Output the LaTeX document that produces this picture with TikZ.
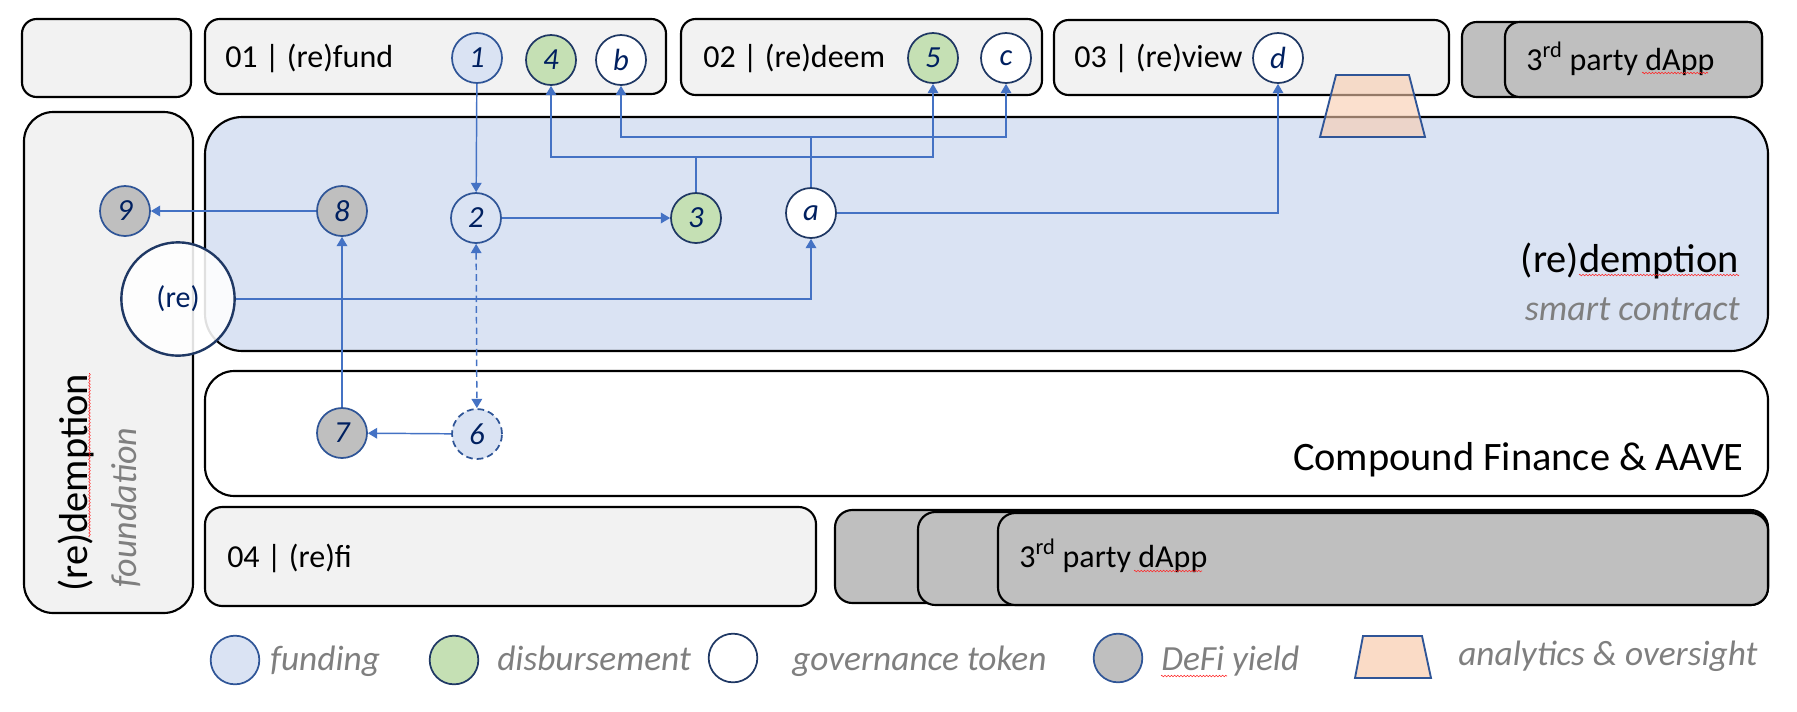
\documentclass[tikz,border=0pt]{standalone}
\usepackage{fontspec}
\setmainfont{Carlito}
\usetikzlibrary{arrows.meta,fit,decorations.pathmorphing}
\definecolor{panel}{HTML}{F2F2F2}
\definecolor{dappgray}{HTML}{BFBFBF}
\definecolor{mainfill}{HTML}{DAE3F3}
\definecolor{navy}{HTML}{1F3864}
\definecolor{navytext}{HTML}{002060}
\definecolor{blueb}{HTML}{2F5597}
\definecolor{arrowblue}{HTML}{4472C4}
\definecolor{fundfill}{HTML}{DAE3F3}
\definecolor{disbfill}{HTML}{C5E0B4}
\definecolor{defifill}{HTML}{BFBFBF}
\definecolor{peach}{HTML}{F8CBAD}
\definecolor{graytext}{HTML}{7F7F7F}
\begin{document}
\begin{tikzpicture}[x=0.75pt,y=-0.75pt,
  box/.style={draw=black, line width=1.6pt, inner sep=0pt, outer sep=0pt},
  smallbox/.style={box, rounded corners=11pt},
  bigbox/.style={box, rounded corners=24pt},
  lbl/.style={font=\fontsize{24}{28}\selectfont, inner sep=0pt, text=black},
  biglbl/.style={font=\fontsize{30.3}{34}\selectfont, inner sep=0pt, text=black},
  sublbl/.style={font=\fontsize{27}{30}\selectfont\itshape, inner sep=0pt, text=graytext},
  leglbl/.style={font=\fontsize{26.5}{30}\selectfont\itshape, inner sep=0pt, text=graytext},
  tok/.style={circle, minimum size=37.5pt, inner sep=0pt, line width=1.3pt,
    font=\fontsize{23}{23}\selectfont\itshape, text=navytext},
  fund/.style={tok, draw=blueb, fill=fundfill},
  disb/.style={tok, draw=navy, fill=disbfill},
  gov/.style={tok, draw=navy, fill=white},
  defi/.style={tok, draw=blueb, fill=defifill},
  legtok/.style={minimum size=36.5pt},
  longdash/.style={dash pattern=on 5pt off 3pt},
  arr/.style={draw=arrowblue, line width=1.1pt, -{Triangle[width=8pt,length=7pt]}},
  squig/.style={draw=red!85, line width=0.4pt, decorate,
    decoration={zigzag, segment length=2.4pt, amplitude=0.6pt}},
  trap/.style={draw=blueb, line width=1.4pt, fill=peach, fill opacity=0.6}
]
\useasboundingbox (0,0) rectangle (1797,711);

% ---- top row
\node[smallbox, fill=panel, fit={(22,19) (191,97)}] (tl) {};
\node[smallbox, fill=panel, fit={(205,19) (666,94)}] (b01) {};
\node[smallbox, fill=panel, fit={(681,19) (1042,95)}] (b02) {};
\node[smallbox, fill=panel, fit={(1054,20) (1449,95)}] (b03) {};
\node[smallbox, fill=dappgray, fit={(1462,22) (1762,97)}] (dtopback) {};
\node[smallbox, fill=dappgray, fit={(1505,22) (1762,97)}] (dtop) {};

% ---- left column, main and compound
\node[box, rounded corners=22pt, fill=panel, fit={(24,112) (193,613)}] (found) {};
\node[bigbox, rounded corners=28pt, fill=mainfill, fit={(205,117) (1768,351)}] (main) {};
\node[bigbox, rounded corners=22pt, fill=white, fit={(205,371) (1768,496)}] (comp) {};

% ---- bottom row
\node[smallbox, rounded corners=13pt, fill=panel, fit={(205,507) (816,606)}] (b04) {};
\node[smallbox, rounded corners=13pt, fill=dappgray, fit={(835,510) (1768,603)}] (dbot1) {};
\node[smallbox, rounded corners=13pt, fill=dappgray, fit={(918,512) (1768,605)}] (dbot2) {};
\node[smallbox, rounded corners=13pt, fill=dappgray, fit={(998,513) (1768,605)}] (dbot3) {};

% ---- texts
\node[lbl, anchor=base west] (t01) at (225,67) {01 | (re)fund};
\node[lbl, anchor=base west] (t02) at (703,67) {02 | (re)deem};
\node[lbl, anchor=base west] (t03) at (1074,67) {03 | (re)view};
\node[lbl, anchor=base west] (tdtop) at (1526,70) {3\textsuperscript{rd} party dApp};
\node[lbl, anchor=base west] (t04) at (227,567) {04 | (re)fi};
\node[lbl, anchor=base west] (tdbot) at (1019,567) {3\textsuperscript{rd} party dApp};
\node[biglbl, anchor=base east] (tred) at (1739,272) {(re)demption};
\node[sublbl, anchor=base east] (tsc) at (1740,320) {smart contract};
\node[biglbl, anchor=base east] (tcomp) at (1744,470) {Compound Finance \& AAVE};
\node[biglbl, rotate=90, anchor=base west] (tfred) at (87,592) {(re)demption};
\node[sublbl, rotate=90, anchor=base west] (tfound) at (136,588) {foundation};

% spell-check marks
\draw[squig] (1642,73) -- (1708,73);
\draw[squig] (1134,571) -- (1202,571);
\draw[squig] (1579,275) -- (1739,275);
\draw[squig] (89.5,537) -- (89.5,373);
\draw[squig] (1161,676) -- (1227,676);

% ---- analytics trapezoid
\draw[trap] (1336,75) -- (1409,75) -- (1425,137) -- (1320,137) -- cycle;

% ---- token circles
\node[fund] (n1) at (477,58) {1};
\node[disb] (n4) at (551,60) {4};
\node[gov]  (nb) at (621,60) {b};
\node[disb] (n5) at (933,58) {5};
\node[gov]  (nc) at (1006,58) {c};
\node[gov]  (nd) at (1278,58) {d};
\node[defi] (n9) at (125,211) {9};
\node[defi] (n8) at (342,211) {8};
\node[fund] (n2) at (476,218) {2};
\node[disb] (n3) at (696,218) {3};
\node[gov]  (na) at (811,213) {a};
\node[defi] (n7) at (342,433) {7};
\node[fund, longdash] (n6) at (477,434) {6};
\node[circle, minimum size=85pt, inner sep=0pt, draw=navy, line width=1.8pt,
  fill=white, fill opacity=0.88, text opacity=1, text=navytext,
  font=\fontsize{22.5}{24}\selectfont] (nre) at (178,299) {(re)};

% ---- connectors
\coordinate (j3) at (696,157);
\coordinate (ja) at (811,137);
\draw[arr] (n1) -- (n2);
\draw[arr] (n3.north) -- (j3) -| (n4.south);
\draw[arr] (j3) -| (n5.south);
\draw[arr] (na.north) -- (ja) -| (nb.south);
\draw[arr] (ja) -| (nc.south);
\draw[arr] (na.east) -| (nd.south);
\draw[arr] (nre.east) -| (na.south);
\draw[arr] (n2) -- (n3);
\draw[arr] (n8) -- (n9);
\draw[arr] (n7) -- (n8);
\draw[arr] (n6) -- (n7);
\draw[arr, longdash, {Triangle[width=8pt,length=7pt]}-{Triangle[width=8pt,length=7pt]}] (n2) -- (n6);

% ---- legend
\node[fund, legtok] (lf) at (235,660) {};
\node[leglbl, anchor=base west] (lft) at (270,670) {funding};
\node[disb, legtok] (ld) at (454,660) {};
\node[leglbl, anchor=base west] (ldt) at (497,670) {disbursement};
\node[gov, legtok] (lg) at (733,658) {};
\node[leglbl, anchor=base west] (lgt) at (792,670) {governance token};
\node[defi, legtok] (ly) at (1118,658) {};
\node[leglbl, anchor=base west] (lyt) at (1161,670) {DeFi yield};
\draw[trap, fill=peach!70, fill opacity=1] (1363,636) -- (1422,636) -- (1431,678) -- (1355,678) -- cycle;
\node[leglbl, anchor=base west] (lat) at (1458,665) {analytics \& oversight};
\end{tikzpicture}
\end{document}
